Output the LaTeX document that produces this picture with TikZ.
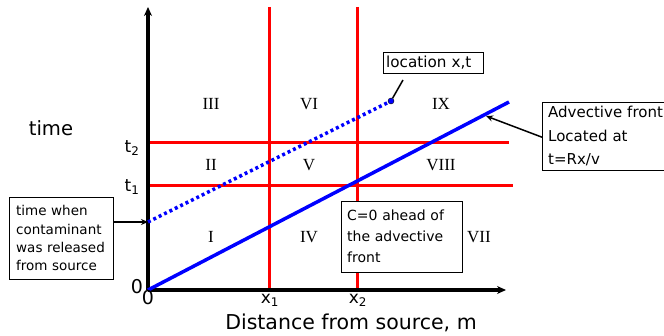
\documentclass[tikz,border=0pt]{standalone}
\usepackage{fontspec}
\setmainfont{DejaVu Sans}
\newfontfamily\romfont{Liberation Serif}
\usetikzlibrary{arrows.meta,positioning,calc}

\begin{document}
\begin{tikzpicture}[
    x=1pt, y=-1pt,
    axis/.style={line width=3.5pt, -{Stealth[length=9pt,width=8pt]}},
    bound/.style={red, line width=3pt},
    front/.style={blue, line width=3.5pt},
    region/.style={font=\romfont\fontsize{17}{17}\selectfont},
    tick/.style={font=\fontsize{17}{17}\selectfont},
    note/.style={draw, fill=white, thin, align=left, inner sep=3pt, anchor=north west},
    pointer/.style={line width=1.5pt, -{Stealth[length=7pt,width=6pt]}}
]
    \useasboundingbox (0,0) rectangle (664,336);

    % axes
    \coordinate (origin) at (148,290);
    \coordinate (ytop) at (148,7);
    \coordinate (xend) at (506,290);

    % region boundaries
    \draw[bound] (269,7) -- (269,290);
    \draw[bound] (357,7) -- (357,290);
    \draw[bound] (148,143) -- (509,143);
    \draw[bound] (148,186) -- (513,186);

    \draw[axis] (origin) -- (ytop);
    \draw[axis] (origin) -- (xend);

    % fronts
    \coordinate (release) at (148,222);
    \node[circle, fill=blue, draw=black, inner sep=0pt, minimum size=6pt] (loc) at (391,101) {};
    \draw[blue, line width=3.5pt, dash pattern=on 3pt off 3pt] (release) -- (loc);
    \coordinate (frontend) at (509,102);
    \draw[front] (origin) -- (frontend);

    % regions
    \node[region] (r3) at (211,104) {III};
    \node[region] (r6) at (309,104) {VI};
    \node[region] (r9) at (441,104) {IX};
    \node[region] (r2) at (211,165) {II};
    \node[region] (r5) at (309,165) {V};
    \node[region] (r8) at (441,165) {VIII};
    \node[region] (r1) at (211,237) {I};
    \node[region] (r4) at (309,237) {IV};
    \node[region] (r7) at (479,237) {VII};

    % axis labels
    \node[font=\fontsize{19.6}{19.6}\selectfont] (tlab) at (51,128) {time};
    \node[tick] (t2) at (132,148) {t\textsubscript{2}};
    \node[tick] (t1) at (132,187) {t\textsubscript{1}};
    \node[font=\fontsize{19}{19}\selectfont] (y0) at (137,287) {0};
    \node[font=\fontsize{19}{19}\selectfont] (x0) at (148,298) {0};
    \node[tick] (x1) at (270,300) {x\textsubscript{1}};
    \node[tick] (x2) at (358,300) {x\textsubscript{2}};
    \node[font=\fontsize{20.5}{20.5}\selectfont] (xlab) at (351,323) {Distance from source, m};

    % notes
    \node[note, font=\fontsize{15.2}{15.2}\selectfont, text width=94pt, minimum height=21pt,
          inner xsep=3pt, inner ysep=1pt] (locnote) at (383,52) {location x,t};
    \draw[line width=1.5pt] (403,80) -- (loc);

    \node[note, font=\fontsize{15}{23.5}\selectfont, text width=130pt, minimum height=68pt,
          inner xsep=6pt] (frontnote) at (542,102)
        {Advective front\\Located at\\t=Rx/v};
    \coordinate (fronthit) at (486,116);
    \draw[pointer] ($(frontnote.west)+(0,1)$) -- (fronthit);

    \node[note, font=\fontsize{13.5}{18.3}\selectfont, text width=90pt, minimum height=82pt,
          inner xsep=7pt] (relnote) at (9,197)
        {time when\\contaminant\\was released\\from source};
    \draw[pointer] (relnote.east |- release) -- (release);

    \node[note, font=\fontsize{14}{21}\selectfont, text width=109pt, minimum height=71pt,
          inner xsep=6pt] (c0note) at (341,201)
        {C=0 ahead of\\the advective\\front};
\end{tikzpicture}
\end{document}
